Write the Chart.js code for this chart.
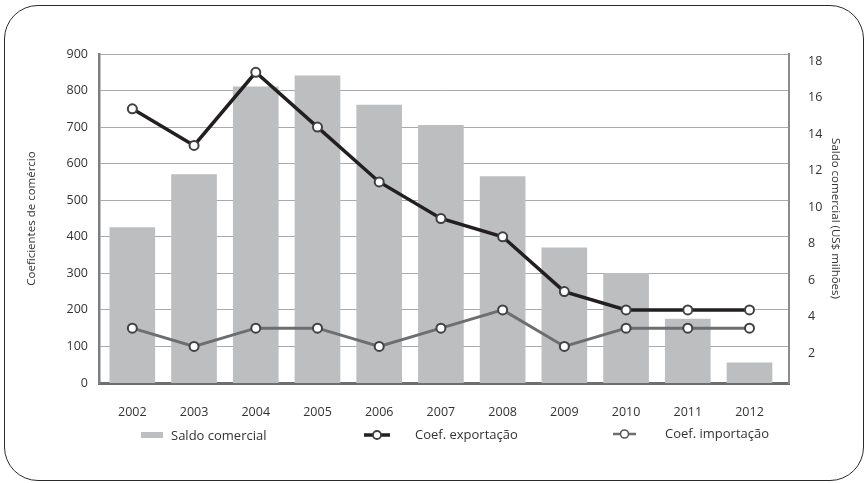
<!DOCTYPE html>
<html lang="pt">
<head>
<meta charset="utf-8">
<title>Saldo comercial e coeficientes de comércio</title>
<script src="https://cdn.jsdelivr.net/npm/chart.js@4/dist/chart.umd.min.js"></script>
<style>
    html, body { margin: 0; padding: 0; background: #fff; }
    #wrap { position: relative; width: 868px; height: 483px; overflow: hidden; font-family: "Open Sans", sans-serif; color: #333; }
    #moldura { position: absolute; left: 4px; top: 5px; width: 860px; height: 476px; border: 1.5px solid #2b2b2b; border-radius: 34px; box-sizing: border-box; }
    #grafico { position: absolute; left: 0; top: 0; }
    .leg { position: absolute; font-size: 13px; line-height: 16px; white-space: nowrap; }
    .leg svg { position: absolute; }
</style>
</head>
<body>
<div id="wrap">
    <div id="moldura"></div>
    <canvas id="grafico" width="868" height="483"></canvas>
    <!-- legenda montada à mão para manter os espaçamentos -->
    <div class="leg" style="left:141px; top:428px;">
        <svg width="22" height="6" style="left:0; top:4px;"><rect width="22" height="6" fill="#bcbec0"/></svg>
        <span style="position:absolute; left:30px; top:-1px;">Saldo comercial</span>
    </div>
    <div class="leg" style="left:364px; top:427px;">
        <svg width="26" height="12" style="left:0; top:2px;">
            <line x1="0" y1="6" x2="26" y2="6" stroke="#231f20" stroke-width="3.5"/>
            <circle cx="13" cy="6" r="4" fill="#fff" stroke="#414042" stroke-width="1.8"/>
        </svg>
        <span style="position:absolute; left:51px; top:-1px;">Coef. exportação</span>
    </div>
    <div class="leg" style="left:613px; top:426px;">
        <svg width="23" height="12" style="left:0; top:2px;">
            <line x1="0" y1="6" x2="23" y2="6" stroke="#6d6e70" stroke-width="2.5"/>
            <circle cx="11.5" cy="6" r="4" fill="#fff" stroke="#58595b" stroke-width="1.6"/>
        </svg>
        <span style="position:absolute; left:52px; top:-1px;">Coef. importação</span>
    </div>
</div>

<script>
// anos e séries
const anos = [2002, 2003, 2004, 2005, 2006, 2007, 2008, 2009, 2010, 2011, 2012];
const saldoComercial = [8.5, 11.4, 16.2, 16.8, 15.2, 14.1, 11.3, 7.4, 6.0, 3.5, 1.1];   // US$ milhões
const coefExportacao = [750, 650, 850, 700, 550, 450, 400, 250, 200, 200, 200];
const coefImportacao = [150, 100, 150, 150, 100, 150, 200, 100, 150, 150, 150];

const fonteTicks = { family: '"Open Sans", sans-serif', size: 12.5 };
const fonteTitulo = { family: '"Open Sans", sans-serif', size: 11.5 };

const ctx = document.getElementById('grafico').getContext('2d');
const grafico = new Chart(ctx, {
    data: {
        labels: anos,
        datasets: [
            {
                type: 'line',
                label: 'Coef. exportação',
                data: coefExportacao,
                yAxisID: 'yCoef',
                borderColor: '#231f20',
                borderWidth: 3.5,
                pointRadius: 4.5,
                pointBorderWidth: 2,
                pointBorderColor: '#414042',
                pointBackgroundColor: '#ffffff',
                tension: 0,
                order: 1
            },
            {
                type: 'line',
                label: 'Coef. importação',
                data: coefImportacao,
                yAxisID: 'yCoef',
                borderColor: '#6d6e70',
                borderWidth: 3,
                pointRadius: 4.5,
                pointBorderWidth: 2,
                pointBorderColor: '#414042',
                pointBackgroundColor: '#ffffff',
                tension: 0,
                order: 2
            },
            {
                type: 'bar',
                label: 'Saldo comercial',
                data: saldoComercial,
                yAxisID: 'ySaldo',
                backgroundColor: '#bcbec0',
                barThickness: 45,
                order: 3
            }
        ]
    },
    options: {
        responsive: false,
        animation: false,
        layout: { padding: { left: 0, right: 0, top: 54, bottom: 0 } },
        plugins: {
            legend: { display: false },
            tooltip: { enabled: false }
        },
        scales: {
            x: {
                // eixo linear para deixar a folga maior à direita
                type: 'linear',
                offset: false,
                min: 2001.46,
                max: 2012.64,
                afterFit: (scale) => { scale.height = 100; },
                grid: { display: false, drawTicks: false, offset: false },
                border: { display: true, color: '#6d6e70', width: 3 },
                ticks: {
                    stepSize: 1,
                    includeBounds: false,
                    padding: 22,
                    color: '#333',
                    font: fonteTicks,
                    callback: (valor) => String(valor)
                }
            },
            yCoef: {
                position: 'left',
                min: 0,
                max: 900,
                afterFit: (scale) => { scale.width = 99; },
                grid: { color: '#a7a9ac', lineWidth: 1, drawTicks: false },
                border: { display: true, color: '#7d7e80', width: 2.5 },
                ticks: { stepSize: 100, padding: 11, color: '#333', font: fonteTicks },
                title: {
                    display: true,
                    text: 'Coeficientes de comércio',
                    color: '#333',
                    font: fonteTitulo,
                    padding: { top: 25, bottom: 0 }
                }
            },
            ySaldo: {
                position: 'right',
                min: 0,
                max: 18,
                afterFit: (scale) => { scale.width = 79; },
                grid: { display: false, drawTicks: false },
                border: { display: true, color: '#8a8b8d', width: 2 },
                ticks: {
                    stepSize: 2,
                    padding: 19,
                    labelOffset: 7,
                    color: '#333',
                    font: fonteTicks,
                    callback: (valor) => valor === 0 ? '' : String(valor)
                },
                title: {
                    display: true,
                    text: 'Saldo comercial (US$ milhões)',
                    color: '#333',
                    font: fonteTitulo,
                    padding: { top: 26, bottom: 0 }
                }
            }
        }
    }
});
</script>
</body>
</html>
